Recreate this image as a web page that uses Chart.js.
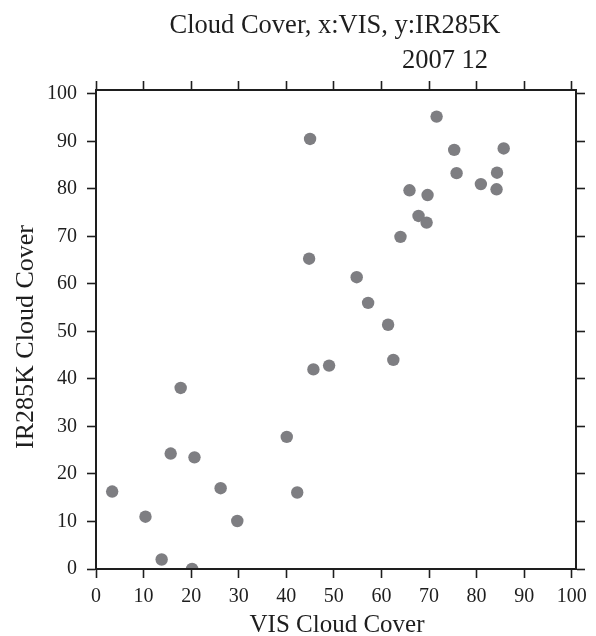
<!DOCTYPE html>
<html>
<head>
<meta charset="utf-8">
<script src="https://cdn.jsdelivr.net/npm/chart.js@4.4.1/dist/chart.umd.min.js"></script>
<style>
  html, body { margin: 0; padding: 0; background: #fff; }
  #wrap { width: 596px; height: 636px; position: relative; }
</style>
</head>
<body>
<div id="wrap"><canvas id="scatter"></canvas></div>
<script>
/* -----------------------------
   Data
------------------------------ */
const visCover = [
  3.4, 10.4, 13.8, 15.7, 17.8, 20.2, 20.7, 26.2, 29.7, 40.1,
  42.3, 44.8, 45.0, 45.7, 49.0, 54.8, 57.2, 61.4, 62.5, 64.0,
  65.9, 67.8, 69.5, 69.7, 71.6, 75.3, 75.8, 80.9, 84.2, 84.3,
  85.7
];
const irCover = [
  16.3, 11.0, 2.0, 24.3, 38.1, 0.0, 23.5, 17.0, 10.1, 27.8,
  16.1, 65.3, 90.5, 42.0, 42.8, 61.4, 56.0, 51.4, 44.0, 69.9,
  79.7, 74.3, 72.9, 78.7, 95.2, 88.2, 83.3, 81.0, 79.9, 83.4,
  88.5
];
const tickValues = [0, 10, 20, 30, 40, 50, 60, 70, 80, 90, 100];

const titleText = 'Cloud Cover, x:VIS, y:IR285K';
const dateText = '2007 12';
const xTitle = 'VIS Cloud Cover';
const yTitle = 'IR285K Cloud Cover';

const serif = '"Liberation Serif", "DejaVu Serif", serif';
const ink = '#1e1e1e';

/* -----------------------------
   Shared axis helpers
------------------------------ */
function fixedTicks(scale) {
  scale.ticks = tickValues.map(v => ({ value: v }));
}

function axis(position, size, showLabels, padding) {
  const vertical = position === 'left' || position === 'right';
  return {
    type: 'linear',
    position: position,
    min: 0,
    max: vertical ? 100.8 : 100.9,
    afterBuildTicks: fixedTicks,
    afterFit: s => {
      if (vertical) s.width = size;
      else s.height = size;
    },
    grid: {
      display: true,
      drawOnChartArea: false,
      drawTicks: true,
      tickLength: 9,
      tickWidth: 1.6,
      tickColor: ink,
      z: 1
    },
    // border after grid in the same layer, so the border position is known
    border: { display: true, color: ink, width: 2, z: 1 },
    ticks: {
      display: showLabels,
      color: ink,
      padding: padding,
      font: { family: serif, size: 20 },
      maxRotation: 0,
      autoSkip: false,
      z: 1
    }
  };
}

/* -----------------------------
   Titles drawn as plain text
------------------------------ */
const textPlugin = {
  id: 'texts',
  afterDraw(chart) {
    const c = chart.ctx;
    c.save();
    c.fillStyle = ink;
    c.textAlign = 'center';
    c.textBaseline = 'alphabetic';

    c.font = '26.5px ' + serif;
    c.fillText(titleText, 335, 33);
    c.fillText(dateText, 445, 68);

    c.font = '25px ' + serif;
    c.fillText(xTitle, 337, 632);

    c.font = '26px ' + serif;
    c.translate(33, 337);
    c.rotate(-Math.PI / 2);
    c.fillText(yTitle, 0, 0);
    c.restore();
  }
};

/* -----------------------------
   Chart
------------------------------ */
new Chart(document.getElementById('scatter'), {
  type: 'scatter',
  data: {
    datasets: [{
      label: 'IR285K vs VIS',
      data: visCover.map((x, i) => ({ x: x, y: irCover[i] })),
      backgroundColor: '#7e7e82',
      borderWidth: 0,
      pointRadius: 6.2,
      pointHoverRadius: 6.2,
      clip: 0
    }]
  },
  options: {
    responsive: true,
    maintainAspectRatio: false,
    animation: false,
    layout: { padding: 0 },
    plugins: {
      legend: { display: false },
      tooltip: { enabled: false }
    },
    scales: {
      x: axis('bottom', 67, true, 7),
      x2: axis('top', 90, false, 0),
      y: axis('left', 96, true, 10),
      y2: axis('right', 20, false, 0)
    }
  },
  plugins: [textPlugin]
});
</script>
</body>
</html>
